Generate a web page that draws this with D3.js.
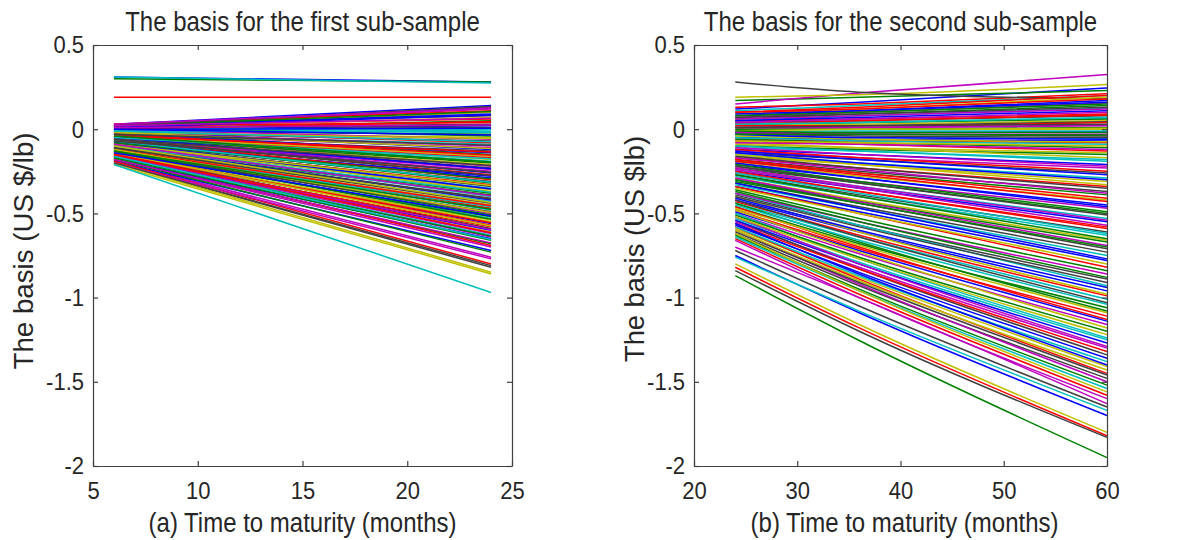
<!DOCTYPE html>
<html>
<head>
<meta charset="utf-8">
<script src="https://cdn.jsdelivr.net/npm/d3@7"></script>
<style>
  body { margin: 0; background: #fff; }
  svg text { font-family: "Liberation Sans", Arial, sans-serif; fill: #262626; }
</style>
</head>
<body>
<svg id="chart" width="1204" height="540"></svg>
<script>
/* ---------------------------------------------------------
   DATA  (basis in US $/lb)
--------------------------------------------------------- */
const monthsA = [6, 24];          // first sub-sample: maturities of each curve
const monthsB = [24, 36, 60];     // second sub-sample: start, middle, end

const yTicks = [-2, -1.5, -1, -0.5, 0, 0.5];
const xTicksA = [5, 10, 15, 20, 25];
const xTicksB = [20, 30, 40, 50, 60];

// one entry per curve: [basis at 6 months, basis at 24 months]
const basisA = [
  [0.31, 0.28], [0.30, 0.28], [0.19, 0.19], [0.31, 0.275], [0.02, 0.13],
  [0.01, 0.10], [0.01, 0.03], [0.03, 0.14], [-0.01, -0.03], [0.02, 0.06],
  [-0.01, 0.00], [0.02, 0.12], [-0.02, -0.05], [0.03, 0.08], [0.00, 0.02],
  [0.00, 0.05], [0.03, 0.11], [0.00, -0.02], [0.00, -0.06], [0.01, 0.07],
  [0.02, 0.01], [0.02, 0.09], [0.01, -0.04], [0.02, 0.04], [0.01, -0.01],
  [-0.03, -0.11], [-0.03, -0.18], [-0.02, -0.07], [-0.05, -0.26], [-0.02, -0.15],
  [-0.09, -0.33], [-0.03, -0.09], [-0.04, -0.22], [-0.08, -0.37], [-0.04, -0.13],
  [-0.07, -0.29], [-0.05, -0.20], [-0.01, -0.08], [-0.10, -0.35], [-0.06, -0.24],
  [-0.04, -0.16], [-0.08, -0.31], [-0.01, -0.12], [-0.11, -0.39], [-0.06, -0.27],
  [-0.04, -0.19], [-0.02, -0.10], [-0.09, -0.36], [-0.05, -0.23], [-0.03, -0.14],
  [-0.07, -0.32], [-0.05, -0.17], [-0.09, -0.40], [-0.07, -0.25], [-0.06, -0.21],
  [-0.08, -0.34], [-0.08, -0.28], [-0.10, -0.38], [-0.06, -0.30],
  [-0.12, -0.43], [-0.13, -0.50], [-0.17, -0.61], [-0.11, -0.41], [-0.15, -0.56],
  [-0.18, -0.68], [-0.11, -0.47], [-0.13, -0.53], [-0.16, -0.64], [-0.12, -0.45],
  [-0.15, -0.59], [-0.10, -0.42], [-0.14, -0.52], [-0.17, -0.69], [-0.12, -0.48],
  [-0.16, -0.62], [-0.14, -0.55], [-0.11, -0.44], [-0.18, -0.65], [-0.12, -0.51],
  [-0.16, -0.58], [-0.13, -0.46], [-0.18, -0.70], [-0.15, -0.54], [-0.14, -0.49],
  [-0.16, -0.60], [-0.17, -0.66], [-0.14, -0.57], [-0.17, -0.63],
  [-0.19, -0.76], [-0.21, -0.86], [-0.20, -0.82], [-0.19, -0.72], [-0.18, -0.73],
  [-0.19, -0.80], [-0.21, -0.97], [-0.20, -0.77], [-0.20, -0.85], [-0.20, -0.81],
  [-0.05, -0.235], [0.02, 0.105], [-0.12, -0.455], [-0.01, -0.015], [-0.16, -0.595],
  [-0.02, -0.115], [0.02, 0.135], [-0.08, -0.355], [-0.13, -0.535], [0.00, 0.045],
  [-0.05, -0.175], [-0.18, -0.675], [-0.02, -0.055], [-0.11, -0.415], [0.01, 0.085],
  [-0.08, -0.295], [-0.15, -0.555], [-0.01, -0.075], [0.03, 0.125], [-0.12, -0.495],
  [-0.06, -0.215], [0.00, 0.005], [-0.17, -0.635], [-0.04, -0.135], [-0.10, -0.375],
  [0.02, 0.065], [-0.14, -0.575], [-0.06, -0.275], [0.00, -0.035], [-0.13, -0.475],
  [-0.03, -0.155], [-0.16, -0.655], [0.01, 0.025], [-0.09, -0.335], [-0.03, -0.095],
  [-0.14, -0.515], [-0.04, -0.195], [-0.15, -0.615], [-0.07, -0.315], [-0.09, -0.395],
  [-0.10, -0.435], [-0.07, -0.255]
];

// one entry per curve: [basis at 24, 36 and 60 months]
const basisB = [
  [0.12, 0.16, 0.245], [0.17, 0.19, 0.23], [0.13, 0.15, 0.21], [0.11, 0.14, 0.20],
  [0.15, 0.215, 0.325], [0.19, 0.205, 0.265], [0.28, 0.22, 0.18],
  // upper band
  [0.08, 0.11, 0.17], [0.06, 0.09, 0.14], [0.10, 0.13, 0.20], [0.05, 0.08, 0.125], [0.07, 0.10, 0.155],
  [0.09, 0.12, 0.19], [0.07, 0.09, 0.13], [0.09, 0.11, 0.16], [0.08, 0.10, 0.15], [0.10, 0.12, 0.18],
  [-0.11, -0.13, -0.18], [-0.13, -0.17, -0.23], [-0.09, -0.11, -0.14], [-0.14, -0.18, -0.26], [-0.12, -0.15, -0.21],
  [-0.10, -0.12, -0.15], [-0.12, -0.17, -0.25], [-0.10, -0.13, -0.19], [-0.11, -0.15, -0.22], [-0.08, -0.11, -0.17],
  [-0.39, -0.57, -0.89], [-0.42, -0.61, -0.96], [-0.36, -0.53, -0.84], [-0.43, -0.63, -0.99], [-0.38, -0.57, -0.93],
  [-0.38, -0.55, -0.86], [-0.40, -0.61, -0.98], [-0.40, -0.58, -0.91], [-0.41, -0.60, -0.94], [-0.37, -0.55, -0.88],
  [0.05, 0.06, 0.09], [0.02, 0.04, 0.065], [0.06, 0.08, 0.12], [0.02, 0.03, 0.05], [0.04, 0.05, 0.08],
  [0.05, 0.07, 0.11], [0.03, 0.04, 0.06], [0.03, 0.05, 0.085], [0.03, 0.04, 0.07], [0.04, 0.06, 0.10],
  [-0.16, -0.21, -0.31], [-0.18, -0.25, -0.37], [-0.13, -0.18, -0.27], [-0.19, -0.26, -0.39], [-0.17, -0.23, -0.34],
  [-0.15, -0.20, -0.29], [-0.17, -0.24, -0.38], [-0.15, -0.21, -0.33], [-0.16, -0.23, -0.35], [-0.14, -0.20, -0.30],
  [-0.46, -0.68, -1.06], [-0.46, -0.70, -1.13], [-0.44, -0.64, -1.01], [-0.50, -0.74, -1.16], [-0.47, -0.69, -1.09],
  [-0.42, -0.64, -1.03], [-0.49, -0.72, -1.14], [-0.44, -0.67, -1.08], [-0.48, -0.71, -1.11], [-0.45, -0.66, -1.04],
  [0.00, 0.01, 0.025], [0.00, 0.00, 0.00], [0.01, 0.02, 0.045], [-0.02, -0.02, -0.015], [0.00, 0.00, 0.01],
  [0.02, 0.02, 0.04], [-0.01, -0.01, -0.01], [0.01, 0.01, 0.02], [-0.01, 0.00, 0.005], [0.01, 0.02, 0.03],
  [-0.21, -0.29, -0.45], [-0.23, -0.32, -0.50], [-0.18, -0.26, -0.41], [-0.24, -0.34, -0.53], [-0.22, -0.31, -0.47],
  [-0.20, -0.28, -0.42], [-0.22, -0.32, -0.51], [-0.20, -0.29, -0.46], [-0.21, -0.31, -0.49], [-0.19, -0.27, -0.43],
  [-0.50, -0.77, -1.24], [-0.55, -0.82, -1.30], [-0.48, -0.73, -1.18], [-0.54, -0.83, -1.34], [-0.54, -0.80, -1.27],
  [-0.51, -0.76, -1.20], [-0.56, -0.83, -1.32], [-0.53, -0.79, -1.25], [-0.52, -0.80, -1.29], [-0.52, -0.77, -1.22],
  [-0.02, -0.03, -0.04], [-0.05, -0.06, -0.07], [-0.01, -0.02, -0.02], [-0.06, -0.07, -0.08], [-0.04, -0.05, -0.055],
  [-0.02, -0.03, -0.03], [-0.04, -0.06, -0.075], [-0.03, -0.04, -0.05], [-0.03, -0.05, -0.06], [-0.03, -0.03, -0.035],
  [-0.26, -0.37, -0.58], [-0.28, -0.40, -0.63], [-0.23, -0.34, -0.54], [-0.29, -0.42, -0.66], [-0.27, -0.39, -0.61],
  [-0.25, -0.35, -0.55], [-0.27, -0.40, -0.65], [-0.25, -0.37, -0.59], [-0.26, -0.38, -0.62], [-0.24, -0.35, -0.57],
  [-0.59, -0.88, -1.41], [-0.62, -0.93, -1.48], [-0.57, -0.85, -1.36], [-0.63, -0.95, -1.52], [-0.58, -0.89, -1.45],
  [-0.58, -0.87, -1.38], [-0.60, -0.92, -1.50], [-0.60, -0.90, -1.43], [-0.61, -0.91, -1.46], [-0.56, -0.86, -1.40],
  [-0.06, -0.08, -0.11], [-0.07, -0.09, -0.13], [-0.05, -0.07, -0.09], [-0.08, -0.09, -0.12], [-0.07, -0.08, -0.10],
  [-0.30, -0.44, -0.71], [-0.34, -0.49, -0.78], [-0.30, -0.43, -0.67], [-0.34, -0.50, -0.82], [-0.33, -0.47, -0.75],
  [-0.29, -0.43, -0.69], [-0.35, -0.50, -0.80], [-0.32, -0.46, -0.73], [-0.32, -0.47, -0.77], [-0.31, -0.44, -0.70],
  [-0.65, -0.98, -1.58], [-0.64, -0.96, -1.54], [-0.66, -1.00, -1.60], [-0.62, -0.96, -1.56],
  // lowest, sparse curves
  [-0.72, -1.05, -1.65], [-0.75, -1.09, -1.70], [-0.87, -1.255, -1.95], [-0.82, -1.18, -1.82],
  [-0.76, -1.08, -1.67], [-0.70, -1.00, -1.63], [-0.80, -1.16, -1.80], [-0.84, -1.20, -1.83]
];

// MATLAB-style colour order b, g, r, c, m, y, k
const lineColors = ['#0000ff', '#008000', '#ff0000', '#00bfbf', '#bf00bf', '#bfbf00', '#404040'];

/* ---------------------------------------------------------
   PANELS
--------------------------------------------------------- */
const panels = [
  {
    title: 'The basis for the first sub-sample',
    xLabel: '(a) Time to maturity (months)',
    yLabel: 'The basis (US $/lb)',
    yLabelLength: 237, yLabelY: 251, yLabelX: 33,
    months: monthsA, series: basisA,
    xDomain: [5, 25], xTicks: xTicksA,
    left: 93, right: 512, xLabelShift: 0
  },
  {
    title: 'The basis for the second sub-sample',
    xLabel: '(b) Time to maturity (months)',
    yLabel: 'The basis (US $lb)',
    yLabelLength: 226, yLabelY: 249, yLabelX: 644,
    months: monthsB, series: basisB,
    xDomain: [20, 60], xTicks: xTicksB,
    left: 694, right: 1107, xLabelShift: 4
  }
];

const plotTop = 45;
const plotBottom = 466;
const textStretch = 1.12;   // the original figure is a little taller than wide
const svg = d3.select('#chart');

// place a text with a slight vertical stretch around its baseline
function stretchedText(parent, x, y, size) {
  return parent.append('text')
    .attr('transform', `translate(${x},${y}) scale(1,${textStretch})`)
    .attr('font-size', size);
}

function drawPanel(p) {
  const x = d3.scaleLinear().domain(p.xDomain).range([p.left, p.right]);
  const y = d3.scaleLinear().domain([-2, 0.5]).range([plotBottom, plotTop]);
  const g = svg.append('g');

  const line = d3.line()
    .x((d) => x(d[0]))
    .y((d) => y(d[1]))
    .curve(d3.curveMonotoneX);

  g.append('g')
    .selectAll('path')
    .data(p.series)
    .join('path')
    .attr('d', (s) => line(s.map((v, i) => [p.months[i], v])))
    .attr('fill', 'none')
    .attr('stroke', (s, i) => lineColors[i % lineColors.length])
    .attr('stroke-width', 1.5);

  // axes: ticks pointing inside, box on all four sides
  const fmt = (d) => String(d);
  const axes = [
    { ax: d3.axisBottom(x).tickValues(p.xTicks).tickFormat(fmt).tickPadding(16), t: `translate(0,${plotBottom})` },
    { ax: d3.axisTop(x).tickValues(p.xTicks).tickFormat(''), t: `translate(0,${plotTop})` },
    { ax: d3.axisLeft(y).tickValues(yTicks).tickFormat(fmt).tickPadding(9), t: `translate(${p.left},0)` },
    { ax: d3.axisRight(y).tickValues(yTicks).tickFormat(''), t: `translate(${p.right},0)` }
  ];
  axes.forEach(({ ax, t }) => {
    const a = g.append('g')
      .attr('transform', t)
      .call(ax.tickSizeInner(-5).tickSizeOuter(0));
    a.attr('font-size', 22).attr('font-family', null);
    a.selectAll('path, line').attr('stroke', '#404040').attr('stroke-width', 1.2);
    a.selectAll('text')
      .attr('fill', '#262626')
      .attr('transform', `scale(1,${textStretch})`)
      .attr('y', function () { return +d3.select(this).attr('y') / textStretch; });
  });

  const cx = (p.left + p.right) / 2;
  stretchedText(g, cx, 31, 24)
    .attr('text-anchor', 'middle')
    .text(p.title);

  stretchedText(g, cx + p.xLabelShift, 532, 24)
    .attr('text-anchor', 'middle')
    .text(p.xLabel);

  g.append('text')
    .attr('transform', `translate(${p.yLabelX},${p.yLabelY}) rotate(-90) scale(1,${textStretch})`)
    .attr('text-anchor', 'middle')
    .attr('font-size', 24)
    .attr('textLength', p.yLabelLength)
    .attr('lengthAdjust', 'spacingAndGlyphs')
    .text(p.yLabel);
}

panels.forEach(drawPanel);
</script>
</body>
</html>
